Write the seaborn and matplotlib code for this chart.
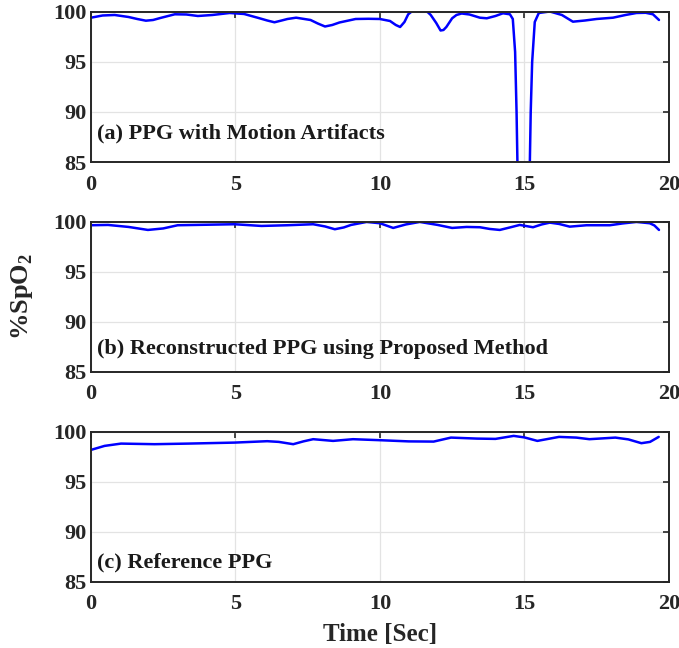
import numpy as np
import pandas as pd
import matplotlib
matplotlib.use('Agg')
import matplotlib.pyplot as plt
import seaborn as sns

# SpO2 traces
t_motion = [0, 0.4, 0.82, 1.3, 1.6, 1.9, 2.15, 2.4, 2.9, 3.3, 3.7, 4.2, 4.8, 5.3, 5.8, 6.1, 6.35,
            6.6, 6.8, 7.1, 7.6, 7.85, 8.1, 8.35, 8.6, 9.16, 9.6, 10.0, 10.35, 10.55, 10.7,
            10.85, 10.98, 11.1, 11.2, 11.5, 11.65, 11.76, 11.95, 12.1, 12.2, 12.3, 12.5,
            12.65, 12.83, 13.1, 13.46, 13.7, 14.0, 14.26, 14.5, 14.6, 14.68, 14.73, 14.76,
            14.85, 15.0, 15.12, 15.19, 15.22, 15.27, 15.36, 15.5, 15.88, 16.3, 16.68, 17.1,
            17.5, 18.07, 18.5, 18.88, 19.2, 19.45, 19.66]
spo2_motion = [99.43, 99.65, 99.7, 99.5, 99.3, 99.13, 99.2, 99.4, 99.77, 99.75, 99.6, 99.7,
               99.9, 99.8, 99.4, 99.15, 98.97, 99.15, 99.3, 99.43, 99.2, 98.85, 98.55, 98.7,
               98.95, 99.3, 99.32, 99.3, 99.1, 98.7, 98.5, 99.0, 99.77, 100.05, 100.1, 100.1,
               100.0, 99.7, 98.9, 98.15, 98.2, 98.5, 99.37, 99.7, 99.85, 99.75, 99.43, 99.37,
               99.6, 99.87, 99.77, 99.3, 96.0, 90.0, 85.0, 76.0, 70.0, 76.0, 85.0, 90.0, 95.0,
               99.0, 99.9, 100.05, 99.7, 99.03, 99.15, 99.3, 99.43, 99.7, 99.9, 99.92, 99.77,
               99.2]

t_recon = [0, 0.59, 1.3, 1.97, 2.5, 3.0, 4.0, 4.97, 5.9, 6.8, 7.69, 8.1, 8.44, 8.75, 9.0,
           9.54, 10.0, 10.46, 10.9, 11.38, 12.0, 12.5, 13.0, 13.46, 13.8, 14.15, 14.5,
           14.84, 15.3, 15.6, 15.88, 16.2, 16.57, 17.15, 17.96, 18.4, 18.88, 19.34, 19.5, 19.66]
spo2_recon = [99.67, 99.7, 99.5, 99.2, 99.35, 99.67, 99.72, 99.77, 99.6, 99.67, 99.77, 99.55,
              99.27, 99.45, 99.7, 100.0, 99.87, 99.4, 99.75, 100.0, 99.7, 99.4, 99.5, 99.47,
              99.3, 99.2, 99.45, 99.7, 99.47, 99.75, 99.93, 99.8, 99.53, 99.67, 99.67, 99.85,
              100.0, 99.87, 99.65, 99.2]

t_ref = [0, 0.47, 1.04, 2.2, 3.36, 4.97, 6.1, 6.5, 7.0, 7.35, 7.69, 8.38, 9.07, 10.0, 11.0,
         11.86, 12.46, 13.36, 14.0, 14.63, 15.0, 15.45, 16.2, 16.8, 17.25, 18.15, 18.6,
         19.05, 19.35, 19.65]
spo2_ref = [98.2, 98.6, 98.83, 98.77, 98.83, 98.93, 99.07, 99.0, 98.77, 99.05, 99.27, 99.1,
            99.27, 99.17, 99.05, 99.03, 99.43, 99.33, 99.3, 99.6, 99.45, 99.1, 99.5, 99.43,
            99.27, 99.43, 99.25, 98.87, 99.0, 99.5]

panel_titles = ['(a) PPG with Motion Artifacts',
                '(b) Reconstructed PPG using Proposed Method',
                '(c) Reference PPG']
x_ticks = [0, 5, 10, 15, 20]
y_ticks = [85, 90, 95, 100]

sns.set_style('whitegrid')
plt.rcParams['font.family'] = ['Liberation Serif', 'DejaVu Serif']
plt.rcParams['font.weight'] = 'bold'
plt.rcParams['mathtext.fontset'] = 'custom'
plt.rcParams['mathtext.rm'] = 'Liberation Serif:bold'
plt.rcParams['mathtext.bf'] = 'Liberation Serif:bold'

fig = plt.figure(figsize=(6.79, 6.48), dpi=100)
bottoms = [0.750, 0.426, 0.102]
series = [(t_motion, spo2_motion), (t_recon, spo2_recon), (t_ref, spo2_ref)]
text_y = [87.9, 87.3, 86.9]

axes = []
for i, ((t, v), title) in enumerate(zip(series, panel_titles)):
    ax = fig.add_axes([0.134, bottoms[i], 0.851, 0.2315])
    df = pd.DataFrame({'t': t, 'spo2': v})
    sns.lineplot(data=df, x='t', y='spo2', ax=ax, color='#0000ff', linewidth=1.8)
    ax.set_xlim(0, 20)
    ax.set_ylim(85, 100)
    ax.set_xticks(x_ticks)
    ax.set_yticks(y_ticks)
    ax.set_xlabel('')
    ax.set_ylabel('')
    ax.grid(True, color='#e3e3e3', linewidth=0.9)
    for s in ax.spines.values():
        s.set_color('#262626')
        s.set_linewidth(1.4)
        s.set_visible(True)
    ax.tick_params(direction='in', length=4, width=1.2, top=True, right=True,
                   labelsize=16, colors='#262626')
    ax.tick_params(axis='x', pad=9)
    ax.tick_params(axis='y', pad=3)
    for lab in ax.get_xticklabels() + ax.get_yticklabels():
        lab.set_fontweight('bold')
    ax.text(0.2, text_y[i], title, fontsize=16, fontweight='bold', va='center',
            color='#1a1a1a')
    axes.append(ax)

axes[2].set_xlabel('Time [Sec]', fontsize=18, fontweight='bold', labelpad=6)
fig.text(0.032, 0.543, r'%SpO$_\mathbf{2}$', rotation=90, fontsize=19, fontweight='bold',
         ha='center', va='center')

plt.savefig('out.png', dpi=100)
